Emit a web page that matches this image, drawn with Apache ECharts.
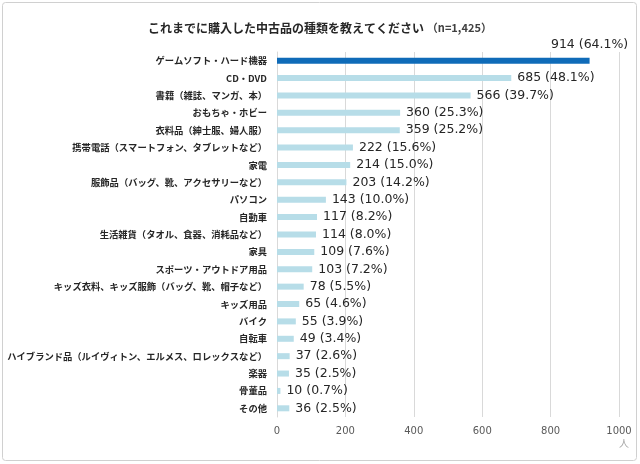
<!DOCTYPE html>
<html>
<head>
<meta charset="utf-8">
<script src="https://cdn.jsdelivr.net/npm/echarts@6/dist/echarts.min.js"></script>
<style>
  html, body { margin: 0; padding: 0; background: #fff; }
  #chart { width: 640px; height: 464px; }
</style>
</head>
<body>
<div id="chart"></div>
<script>
// 中古品の種類（上から順）
const categories = [
  'ゲームソフト・ハード機器', 'CD・DVD', '書籍（雑誌、マンガ、本）', 'おもちゃ・ホビー',
  '衣料品（紳士服、婦人服）', '携帯電話（スマートフォン、タブレットなど）', '家電',
  '服飾品（バッグ、靴、アクセサリーなど）', 'パソコン', '自動車',
  '生活雑貨（タオル、食器、消耗品など）', '家具', 'スポーツ・アウトドア用品',
  'キッズ衣料、キッズ服飾（バッグ、靴、帽子など）', 'キッズ用品', 'バイク', '自転車',
  'ハイブランド品（ルイヴィトン、エルメス、ロレックスなど）', '楽器', '骨董品', 'その他'
];
const counts = [914, 685, 566, 360, 359, 222, 214, 203, 143, 117, 114, 109, 103, 78, 65, 55, 49, 37, 35, 10, 36];
const percents = ['64.1', '48.1', '39.7', '25.3', '25.2', '15.6', '15.0', '14.2', '10.0', '8.2', '8.0', '7.6', '7.2', '5.5', '4.6', '3.9', '3.4', '2.6', '2.5', '0.7', '2.5'];
const xTicks = [0, 200, 400, 600, 800, 1000];

const font = '"Noto Sans CJK JP", "Noto Sans", sans-serif';
const numFont = '"DejaVu Sans", sans-serif';
const chart = echarts.init(document.getElementById('chart'));

const option = {
  animation: false,
  backgroundColor: '#fff',
  title: {
    text: 'これまでに購入した中古品の種類を教えてください {n|（n=1,425）}',
    left: 'center',
    top: 17,
    textStyle: {
      fontFamily: font, fontSize: 12, fontWeight: 'bold', color: '#262626',
      rich: { n: { fontFamily: font, fontSize: 11, fontWeight: 'bold', color: '#404040' } }
    }
  },
  graphic: [{
    type: 'rect',
    shape: { x: 2.5, y: 2.5, width: 634, height: 458, r: 3 },
    style: { fill: 'none', stroke: '#d0d0d0', lineWidth: 1 }
  }, {
    type: 'text',
    left: 619, top: 438,
    style: { text: '人', font: '10px ' + font, fill: '#a6a6a6' }
  }],
  grid: { left: 277, right: 21, top: 52, bottom: 47, containLabel: false, outerBoundsMode: 'none' },
  xAxis: {
    type: 'value',
    min: xTicks[0], max: xTicks[xTicks.length - 1], interval: 200,
    axisLine: { show: false },
    axisTick: { show: false },
    axisLabel: { fontFamily: numFont, fontSize: 10, color: '#595959', margin: 9, formatter: v => String(v) },
    splitLine: { lineStyle: { color: '#d9d9d9', width: 1 } }
  },
  yAxis: {
    type: 'category',
    inverse: true,
    data: categories,
    axisLine: { show: true, lineStyle: { color: '#d9d9d9' } },
    axisTick: { show: false },
    axisLabel: { fontFamily: font, fontSize: 9.3, fontWeight: 'bold', color: '#262626', margin: 10 }
  },
  series: [{
    type: 'bar',
    data: counts.map((v, i) => ({
      value: v,
      itemStyle: { color: i === 0 ? '#0f6bb8' : '#b7dde8' }
    })),
    barWidth: 6,
    label: {
      show: true,
      position: 'right',
      distance: 6,
      fontFamily: numFont, fontSize: 12.5, color: '#262626',
      formatter: p => p.value + ' (' + percents[p.dataIndex] + '%)'
    }
  }]
};
// 先頭の棒だけラベルを棒の端の上に
option.series[0].data[0].label = { position: ['100%', -6], align: 'center', verticalAlign: 'bottom' };

chart.setOption(option);
</script>
</body>
</html>
